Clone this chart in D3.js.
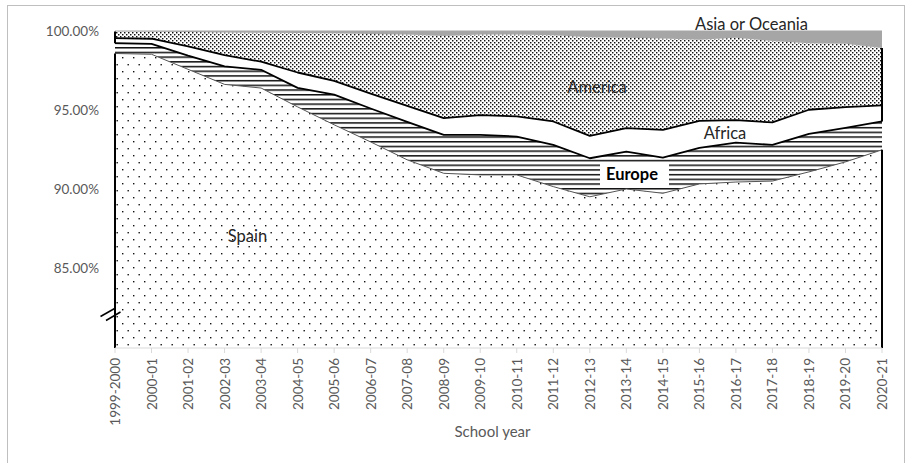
<!DOCTYPE html>
<html>
<head>
<meta charset="utf-8">
<script src="https://cdn.jsdelivr.net/npm/d3@7/dist/d3.min.js"></script>
<style>
  html, body { margin: 0; padding: 0; background: #fff; }
  svg { display: block; font-family: Lato, "Liberation Sans", sans-serif; }
</style>
</head>
<body>
<svg id="chart" width="907" height="463"></svg>
<script>
// ---- Data (percent of students by origin) ----
const categories = ["1999-2000","2000-01","2001-02","2002-03","2003-04","2004-05","2005-06","2006-07","2007-08","2008-09","2009-10","2010-11","2011-12","2012-13","2013-14","2014-15","2015-16","2016-17","2017-18","2018-19","2019-20","2020-21"];
const spain   = [98.55,98.50,97.55,96.60,96.37,95.18,94.05,92.97,91.84,90.99,90.89,90.89,90.15,89.51,90.00,89.73,90.32,90.44,90.50,91.08,91.71,92.47];
const europe  = [0.65,0.66,0.87,1.14,1.15,1.20,1.90,2.11,2.40,2.43,2.53,2.42,2.63,2.43,2.36,2.25,2.27,2.49,2.28,2.40,2.15,1.79];
const africa  = [0.32,0.32,0.58,0.71,0.51,0.97,0.87,0.94,1.01,1.05,1.24,1.27,1.48,1.41,1.48,1.75,1.71,1.41,1.42,1.52,1.30,1.02];
const america = [0.41,0.44,0.90,1.43,1.83,2.49,3.00,3.76,4.49,5.19,5.08,5.16,5.44,6.23,5.71,5.77,5.12,5.20,5.14,4.20,4.00,3.62];
const asia    = [0.07,0.08,0.10,0.12,0.14,0.16,0.18,0.22,0.26,0.34,0.26,0.26,0.30,0.42,0.45,0.50,0.58,0.46,0.66,0.80,0.84,1.10];
const yTicks = [85, 90, 95, 100];
const seriesNames = ["Spain","Europe","Africa","America","Asia or Oceania"];

// ---- Build table ----
const table = categories.map((c, i) => ({
  cat: c,
  "Spain": spain[i], "Europe": europe[i], "Africa": africa[i],
  "America": america[i], "Asia or Oceania": asia[i]
}));
const stacked = d3.stack().keys(seriesNames)(table);

const svg = d3.select("#chart");
const x = d3.scalePoint().domain(categories).range([115, 882]);
const y = d3.scaleLinear().domain([80, 100]).range([347.5, 30.5]).clamp(true);

// ---- Outer border ----
svg.append("rect").attr("x", 7.5).attr("y", 5.5).attr("width", 897).attr("height", 480)
  .attr("fill", "none").attr("stroke", "#bfbfbf").attr("stroke-width", 1);

// ---- Patterns ----
const defs = svg.append("defs");
const pSpain = defs.append("pattern").attr("id", "pSpain").attr("patternUnits", "userSpaceOnUse")
  .attr("width", 11).attr("height", 14);
pSpain.append("rect").attr("width", 11).attr("height", 14).attr("fill", "#fff");
pSpain.append("rect").attr("x", 1).attr("y", 1).attr("width", 1.4).attr("height", 1.4).attr("fill", "#111");
pSpain.append("rect").attr("x", 6.5).attr("y", 8).attr("width", 1.4).attr("height", 1.4).attr("fill", "#111");

const pEurope = defs.append("pattern").attr("id", "pEurope").attr("patternUnits", "userSpaceOnUse")
  .attr("width", 10).attr("height", 4.7);
pEurope.append("rect").attr("width", 10).attr("height", 4.7).attr("fill", "#fff");
pEurope.append("rect").attr("y", 0).attr("width", 10).attr("height", 1.5).attr("fill", "#111");

const pAmerica = defs.append("pattern").attr("id", "pAmerica").attr("patternUnits", "userSpaceOnUse")
  .attr("width", 4).attr("height", 4);
pAmerica.append("rect").attr("width", 4).attr("height", 4).attr("fill", "#fff");
pAmerica.append("rect").attr("x", 0).attr("y", 0).attr("width", 1.45).attr("height", 1.45).attr("fill", "#111");
pAmerica.append("rect").attr("x", 2).attr("y", 2).attr("width", 1.45).attr("height", 1.45).attr("fill", "#111");

const fills = {
  "Spain": "url(#pSpain)",
  "Europe": "url(#pEurope)",
  "Africa": "#ffffff",
  "America": "url(#pAmerica)",
  "Asia or Oceania": "#a6a6a6"
};

// ---- Areas ----
const area = d3.area()
  .x(d => x(d.data.cat))
  .y0(d => y(d[0]))
  .y1(d => y(d[1]));

svg.append("g").selectAll("path").data(stacked).join("path")
  .attr("d", area)
  .attr("fill", s => fills[s.key])
  .attr("stroke", "none");

// ---- Boundary lines ----
const topLine = d3.line().x(d => x(d.data.cat)).y(d => y(d[1]));
// Spain top: thin gray
svg.append("path").attr("d", topLine(stacked[0])).attr("fill", "none")
  .attr("stroke", "#555").attr("stroke-width", 1);
// Africa outline (bottom = Europe top, top = Africa top)
svg.append("path").attr("d", topLine(stacked[1])).attr("fill", "none")
  .attr("stroke", "#000").attr("stroke-width", 1.8).attr("stroke-linejoin", "round");
svg.append("path").attr("d", topLine(stacked[2])).attr("fill", "none")
  .attr("stroke", "#000").attr("stroke-width", 1.8).attr("stroke-linejoin", "round");

// Vertical edges at first and last category
const edges = [0, categories.length - 1];
const eg = svg.append("g").attr("stroke", "#000").attr("stroke-width", 2);
edges.forEach(i => {
  const xi = x(categories[i]);
  eg.append("line").attr("x1", xi).attr("x2", xi)
    .attr("y1", y(stacked[3][i][1])).attr("y2", y(stacked[1][i][1]));
  eg.append("line").attr("x1", xi).attr("x2", xi)
    .attr("y1", y(stacked[0][i][1])).attr("y2", y(80) + 0.5);
});

// ---- X axis ----
const xAxisG = svg.append("g").attr("transform", `translate(0,${y(80) + 0.5})`);
xAxisG.append("line").attr("x1", x(categories[0])).attr("x2", x(categories[categories.length-1]))
  .attr("stroke", "#d9d9d9").attr("stroke-width", 1);
xAxisG.selectAll("line.tick").data(categories).join("line").attr("class", "tick")
  .attr("x1", d => x(d)).attr("x2", d => x(d)).attr("y1", 0).attr("y2", 5)
  .attr("stroke", "#d9d9d9").attr("stroke-width", 1);
svg.append("g").selectAll("text").data(categories).join("text")
  .attr("transform", d => `translate(${x(d)},358) rotate(-90)`)
  .attr("text-anchor", "end").attr("dominant-baseline", "central")
  .attr("font-size", 13.5).attr("fill", "#595959")
  .text(d => d);

svg.append("text").attr("x", 492.5).attr("y", 431)
  .attr("text-anchor", "middle").attr("dominant-baseline", "central")
  .attr("font-size", 15).attr("fill", "#595959").text("School year");

// ---- Y axis labels ----
svg.append("g").selectAll("text").data(yTicks).join("text")
  .attr("x", 99).attr("y", d => y(d))
  .attr("text-anchor", "end").attr("dominant-baseline", "central")
  .attr("font-size", 13.5).attr("fill", "#595959")
  .text(d => d3.format(".2f")(d) + "%");

// ---- Axis break marks ----
const bg = svg.append("g").attr("stroke", "#000").attr("stroke-width", 1.5);
bg.append("line").attr("x1", 100.5).attr("y1", 316.5).attr("x2", 115.5).attr("y2", 308);
bg.append("line").attr("x1", 106).attr("y1", 320.5).attr("x2", 120.5).attr("y2", 312);

// ---- Series labels ----
const lab = svg.append("g").attr("text-anchor", "middle").attr("dominant-baseline", "central")
  .attr("fill", "#262626").attr("font-size", 16.5);
lab.append("text").attr("x", 751.5).attr("y", 24).text("Asia or Oceania");
lab.append("text").attr("x", 597).attr("y", 87).text("America");
lab.append("text").attr("x", 725).attr("y", 133).text("Africa");
lab.append("text").attr("x", 247.5).attr("y", 236).text("Spain");
lab.append("rect").attr("x", 600).attr("y", 162).attr("width", 69).attr("height", 24).attr("fill", "#fff");
lab.append("text").attr("x", 632).attr("y", 174).attr("font-weight", "bold").attr("fill", "#000").text("Europe");
</script>
</body>
</html>
